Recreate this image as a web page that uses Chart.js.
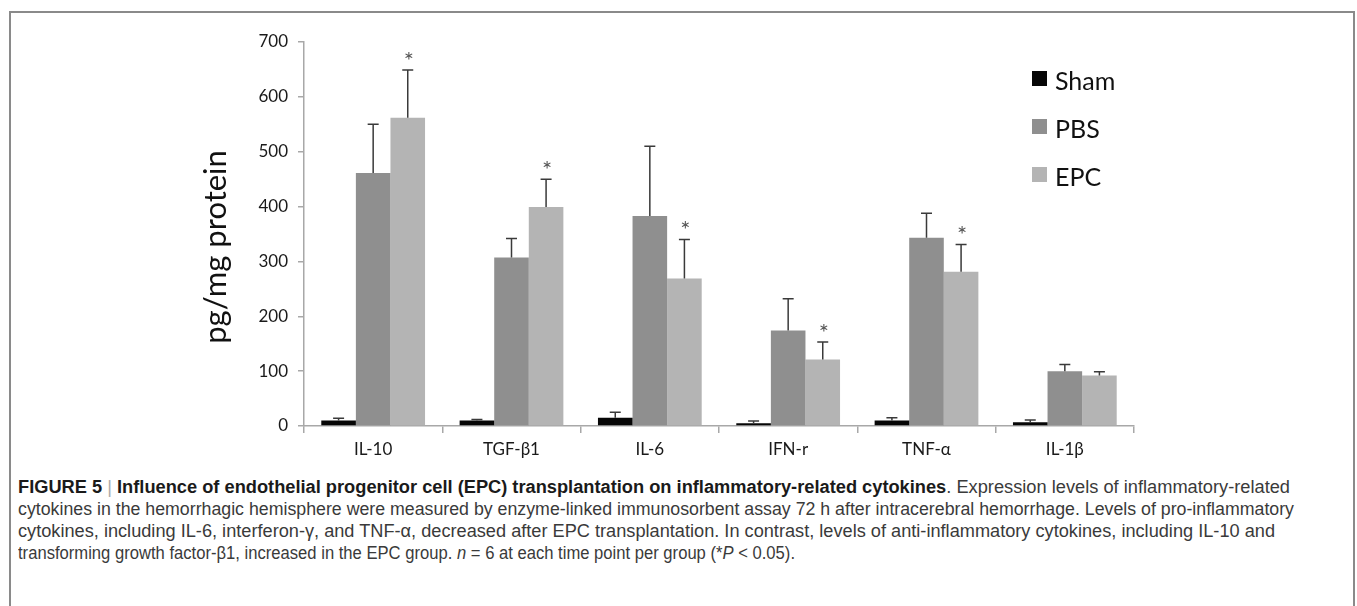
<!DOCTYPE html>
<html>
<head>
<meta charset="utf-8">
<script src="https://cdn.jsdelivr.net/npm/chart.js@4.4.1/dist/chart.umd.min.js"></script>
<style>
  html, body { margin: 0; padding: 0; background: #fff; }
  body { width: 1357px; height: 606px; position: relative; overflow: hidden; }
  #frame { position: absolute; left: 9px; top: 11px; width: 1346px; height: 640px;
           border: 2px solid #8a8a8a; border-bottom: none; box-sizing: border-box; }
  #wrap { position: absolute; left: 0; top: 0; width: 1357px; height: 470px; }
  #caption { position: absolute; left: 18px; top: 476px; font-family: "Liberation Sans", Arial, sans-serif;
             font-size: 17.5px; color: #3a3a3a; line-height: 22px; }
  #caption .ln { white-space: nowrap; transform-origin: 0 50%; display: block; width: max-content; }
  #caption b { color: #1a1a1a; font-weight: 700; }
  #caption .bar { color: #aaa; font-weight: 400; }
</style>
</head>
<body>
<div id="frame"></div>
<div id="wrap"><canvas id="c" width="1357" height="470"></canvas></div>
<div id="caption">
  <div class="ln" data-w="1272"><b>FIGURE 5</b> <span class="bar">|</span> <b>Influence of endothelial progenitor cell (EPC) transplantation on inflammatory-related cytokines</b>. Expression levels of inflammatory-related</div>
  <div class="ln" data-w="1276">cytokines in the hemorrhagic hemisphere were measured by enzyme-linked immunosorbent assay 72 h after intracerebral hemorrhage. Levels of pro-inflammatory</div>
  <div class="ln" data-w="1257">cytokines, including IL-6, interferon-γ, and TNF-α, decreased after EPC transplantation. In contrast, levels of anti-inflammatory cytokines, including IL-10 and</div>
  <div class="ln" data-w="777">transforming growth factor-β1, increased in the EPC group. <i>n</i> = 6 at each time point per group (*<i>P</i> &lt; 0.05).</div>
</div>
<script>
// ---- data ----
const categories = ['IL-10', 'TGF-β1', 'IL-6', 'IFN-r', 'TNF-α', 'IL-1β'];
const seriesNames = ['Sham', 'PBS', 'EPC'];
const shamValues = [10, 10, 15, 5, 10, 7];
const shamErrors = [4, 2, 10, 4, 5, 4];
const pbsValues = [461, 307, 383, 174, 343, 100];
const pbsErrors = [89, 35, 127, 58, 45, 12];
const epcValues = [562, 399, 269, 121, 281, 92];
const epcErrors = [87, 51, 71, 32, 50, 7];
const epcSignificant = [true, true, true, true, true, false];
const yTicks = [0, 100, 200, 300, 400, 500, 600, 700];
const yTitle = 'pg/mg protein';

const colors = ['#060606', '#8f8f8f', '#b4b4b4'];
const errors = [shamErrors, pbsErrors, epcErrors];
const FONT = 'Lato, "Open Sans", sans-serif';

const errorBarPlugin = {
  id: 'errorBars',
  afterDatasetsDraw(chart) {
    const ctx = chart.ctx;
    const y = chart.scales.y;
    ctx.save();
    chart.data.datasets.forEach((ds, di) => {
      const meta = chart.getDatasetMeta(di);
      meta.data.forEach((el, i) => {
        const top = y.getPixelForValue(ds.data[i] + errors[di][i]);
        ctx.strokeStyle = '#3a3a3a';
        ctx.lineWidth = 1.5;
        ctx.beginPath();
        ctx.moveTo(el.x, el.y);
        ctx.lineTo(el.x, top);
        ctx.moveTo(el.x - 5.5, top);
        ctx.lineTo(el.x + 5.5, top);
        ctx.stroke();
        if (di === 2 && epcSignificant[i]) {
          ctx.fillStyle = '#555';
          ctx.font = '24px ' + FONT;
          ctx.textAlign = 'center';
          ctx.textBaseline = 'alphabetic';
          ctx.fillText('*', el.x + 1, top - 1);
        }
      });
    });
    ctx.restore();
  }
};

const legendPlugin = {
  id: 'insideLegend',
  afterDraw(chart) {
    const ctx = chart.ctx;
    ctx.save();
    seriesNames.forEach((name, i) => {
      const top = 71 + i * 48;
      ctx.fillStyle = colors[i];
      ctx.fillRect(1032, top, 15, 15);
      ctx.fillStyle = '#111';
      ctx.font = '25px ' + FONT;
      ctx.textAlign = 'left';
      ctx.textBaseline = 'alphabetic';
      ctx.fillText(name, 1055, top + 18.5);
    });
    ctx.restore();
  }
};

// y-axis title drawn beside the axis
const yTitlePlugin = {
  id: 'yTitle',
  afterDraw(chart) {
    const ctx = chart.ctx;
    ctx.save();
    ctx.translate(216, 247);
    ctx.rotate(-Math.PI / 2);
    ctx.fillStyle = '#111';
    ctx.font = '31px ' + FONT;
    ctx.textAlign = 'center';
    ctx.textBaseline = 'middle';
    ctx.fillText(yTitle, 0, 0);
    ctx.restore();
  }
};

new Chart(document.getElementById('c'), {
  type: 'bar',
  data: {
    labels: categories,
    datasets: [
      { label: seriesNames[0], data: shamValues, backgroundColor: colors[0] },
      { label: seriesNames[1], data: pbsValues, backgroundColor: colors[1] },
      { label: seriesNames[2], data: epcValues, backgroundColor: colors[2] }
    ]
  },
  options: {
    responsive: false,
    animation: false,
    events: [],
    layout: { padding: { left: 196, right: 223, top: 42, bottom: 0 } },
    datasets: { bar: { barPercentage: 1.0, categoryPercentage: 0.75, borderWidth: 0 } },
    plugins: { legend: { display: false }, tooltip: { enabled: false } },
    scales: {
      x: {
        offset: true,
        grid: { display: true, drawOnChartArea: false, drawTicks: true, tickLength: 7, color: '#a8a8a8', lineWidth: 1.5, offset: true },
        border: { display: true, color: '#a8a8a8', width: 1.5 },
        ticks: { color: '#1a1a1a', font: { family: FONT, size: 17 }, padding: 6 },
        afterFit(s) { s.height = 44; }
      },
      y: {
        min: 0, max: 700,
        afterBuildTicks(s) { s.ticks = yTicks.map(v => ({ value: v })); },
        grid: { display: true, drawOnChartArea: false, drawTicks: true, tickLength: 6, color: '#a8a8a8', lineWidth: 1.5 },
        border: { display: true, color: '#a8a8a8', width: 1.5 },
        ticks: { color: '#1a1a1a', font: { family: FONT, size: 17 }, padding: 10 },
        title: { display: false, text: yTitle },
        afterFit(s) { s.width = 108; }
      }
    }
  },
  plugins: [errorBarPlugin, legendPlugin, yTitlePlugin]
});

// condense caption lines horizontally to their widths in the reference
document.querySelectorAll('#caption .ln').forEach(el => {
  const target = +el.dataset.w;
  const w = el.getBoundingClientRect().width;
  el.style.transform = 'scaleX(' + (target / w) + ')';
});
</script>
</body>
</html>
